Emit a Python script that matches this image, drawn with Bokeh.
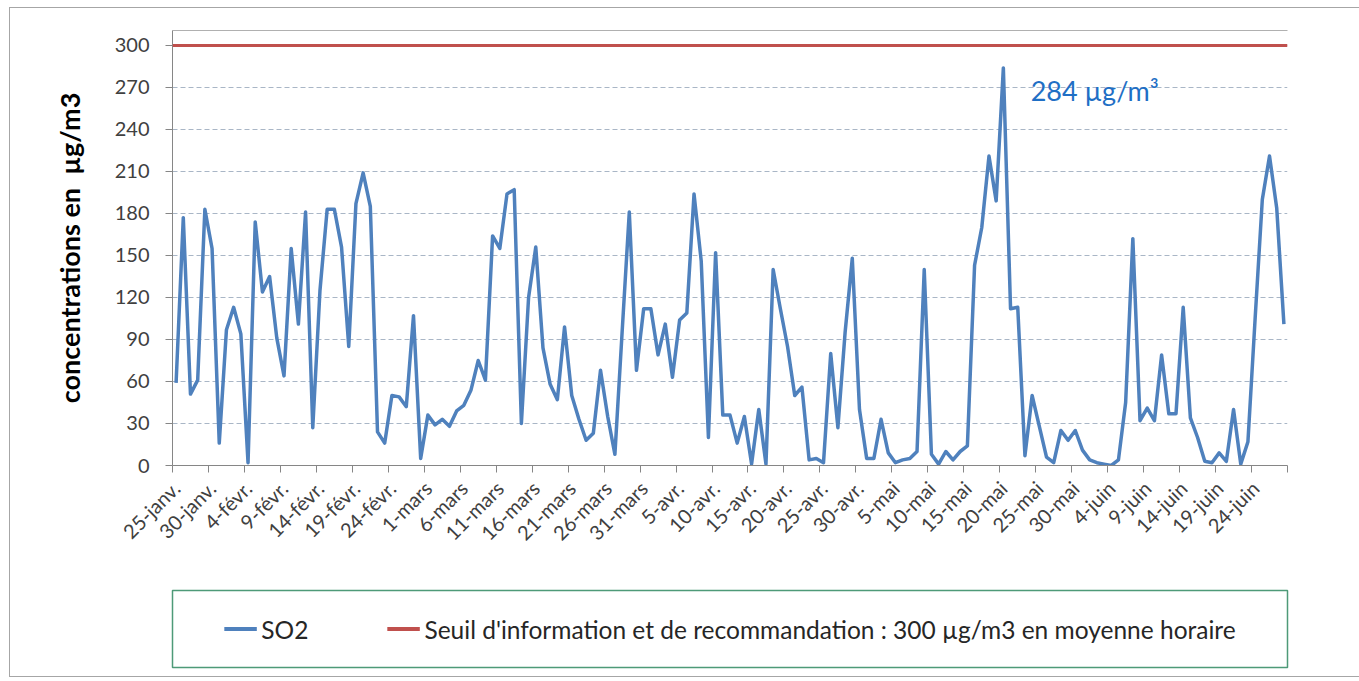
import math
from bokeh.plotting import figure
from bokeh.models import (Range1d, FixedTicker, Span, Label, Legend, LegendItem,
                          LinearAxis, AllLabels)
from bokeh.layouts import column
from bokeh.embed import file_html
from bokeh.resources import INLINE

# daily SO2 concentrations (µg/m3), 25 Jan -> 28 Jun
so2 = [59, 177, 51, 61, 183, 155, 16, 97, 113, 94,
       2, 174, 124, 135, 91, 64, 155, 101, 181, 27,
       125, 183, 183, 156, 85, 187, 209, 185, 24, 16,
       50, 49, 42, 107, 5, 36, 29, 33, 28, 39,
       43, 54, 75, 61, 164, 155, 194, 197, 30, 120,
       156, 84, 58, 47, 99, 50, 33, 18, 23, 68,
       35, 8, 95, 181, 68, 112, 112, 79, 101, 63,
       104, 109, 194, 146, 20, 152, 36, 36, 16, 35,
       1, 40, 1, 140, 112, 85, 50, 56, 4, 5,
       2, 80, 27, 95, 148, 40, 5, 5, 33, 9,
       2, 4, 5, 10, 140, 8, 1, 10, 4, 10,
       14, 143, 170, 221, 189, 284, 112, 113, 7, 50,
       28, 6, 2, 25, 18, 25, 11, 4, 2, 1,
       0, 4, 45, 162, 32, 41, 32, 79, 37, 37,
       113, 34, 20, 3, 2, 9, 3, 40, 1, 17,
       105, 190, 221, 184, 101]
days = list(range(len(so2)))
threshold = 300
tick_labels = ["25-janv.", "30-janv.", "4-févr.", "9-févr.", "14-févr.", "19-févr.",
               "24-févr.", "1-mars", "6-mars", "11-mars", "16-mars", "21-mars",
               "26-mars", "31-mars", "5-avr.", "10-avr.", "15-avr.", "20-avr.",
               "25-avr.", "30-avr.", "5-mai", "10-mai", "15-mai", "20-mai",
               "25-mai", "30-mai", "4-juin", "9-juin", "14-juin", "19-juin", "24-juin"]
y_ticks = list(range(0, 301, 30))
so2_label = "SO2"
threshold_label = "Seuil d'information et de recommandation : 300 µg/m3 en moyenne horaire"
y_title = "concentrations en\u00a0\u00a0µg/m3"

BLUE = "#4f81bd"
RED = "#c0504d"
FONT = "Lato"
TXT = "#404040"
AXIS = "#868686"

label_days = list(range(0, len(so2), 5))

p1 = figure(width=1349, height=575, output_backend="svg", toolbar_location=None,
            x_range=Range1d(-0.5, len(so2) - 0.5), y_range=Range1d(0, 310.7),
            min_border_left=162, min_border_right=72, min_border_top=22,
            min_border_bottom=118)
p1.outline_line_color = None
p1.background_fill_color = "white"
p1.border_fill_color = "white"

p1.line(days, so2, line_color=BLUE, line_width=3.5, line_join="round")
p1.add_layout(Span(location=threshold, dimension="width", line_color=RED, line_width=3))

# top border of plot area
top_axis = LinearAxis(ticker=FixedTicker(ticks=[]), axis_line_color="#b0b0b0",
                      major_tick_line_color=None, minor_tick_line_color=None,
                      major_label_text_font_size="0px")
p1.add_layout(top_axis, "above")

# x axis
xa = p1.below[0]
xa.ticker = FixedTicker(ticks=label_days,
                        minor_ticks=[d - 0.5 for d in label_days] + [len(so2) - 0.5])
xa.major_label_overrides = {d: lab for d, lab in zip(label_days, tick_labels)}
xa.major_label_policy = AllLabels()
xa.major_label_orientation = math.pi / 4
xa.major_tick_line_color = None
xa.minor_tick_out = 7
xa.minor_tick_in = 0
xa.minor_tick_line_color = AXIS
xa.axis_line_color = AXIS
xa.major_label_text_font = FONT
xa.major_label_text_font_size = "20px"
xa.major_label_text_color = TXT
xa.major_label_standoff = 12

# y axis
ya = p1.left[0]
ya.ticker = FixedTicker(ticks=y_ticks)
ya.minor_tick_line_color = None
ya.major_tick_out = 7
ya.major_tick_in = 0
ya.major_tick_line_color = AXIS
ya.axis_line_color = AXIS
ya.major_label_text_font = FONT
ya.major_label_text_font_size = "20px"
ya.major_label_text_color = TXT
ya.major_label_standoff = 16
ya.axis_label = y_title
ya.axis_label_text_font = FONT
ya.axis_label_text_font_style = "bold"
ya.axis_label_text_font_size = "27px"
ya.axis_label_text_color = "black"
ya.axis_label_standoff = 26

p1.xgrid.grid_line_color = None
p1.ygrid.grid_line_color = "#a9b6c6"
p1.ygrid.grid_line_dash = "5 3"
p1.ygrid.grid_line_width = 1

peak = max(so2)
p1.add_layout(Label(x=so2.index(peak) + 3.8, y=268, text=f"{peak} µg/m³",
                    text_font=FONT, text_font_size="27px", text_color="#1f6fc5",
                    text_baseline="middle"))

# legend panel (series redrawn out of view so the legend has glyphs)
p2 = figure(width=1349, height=93, output_backend="svg", toolbar_location=None,
            x_range=Range1d(-0.5, len(so2) - 0.5), y_range=Range1d(1000, 1001),
            x_axis_type=None, y_axis_type=None,
            min_border_left=162, min_border_right=72, min_border_top=7,
            min_border_bottom=9)
p2.xgrid.grid_line_color = None
p2.ygrid.grid_line_color = None
p2.outline_line_color = "#4e9a78"
p2.outline_line_width = 1.5
r1 = p2.line(days, so2, line_color=BLUE, line_width=4)
r2 = p2.line(days, [threshold] * len(days), line_color=RED, line_width=4)
legend = Legend(items=[LegendItem(label=so2_label, renderers=[r1]),
                       LegendItem(label=threshold_label, renderers=[r2])],
                orientation="horizontal", location="center",
                border_line_color=None, background_fill_alpha=0,
                glyph_width=33, label_standoff=5, spacing=78, padding=0, margin=0,
                label_text_font=FONT, label_text_font_size="24.5px",
                label_text_color="#262626")
p2.add_layout(legend, "center")

layout = column(p1, p2, spacing=0,
                styles={"margin-left": "9px", "margin-top": "7px",
                        "border-top": "1px solid #a6a6a6", "border-left": "1px solid #a6a6a6",
                        "border-bottom": "1px solid #a6a6a6"})

open("out.html", "w").write(file_html(layout, INLINE))
